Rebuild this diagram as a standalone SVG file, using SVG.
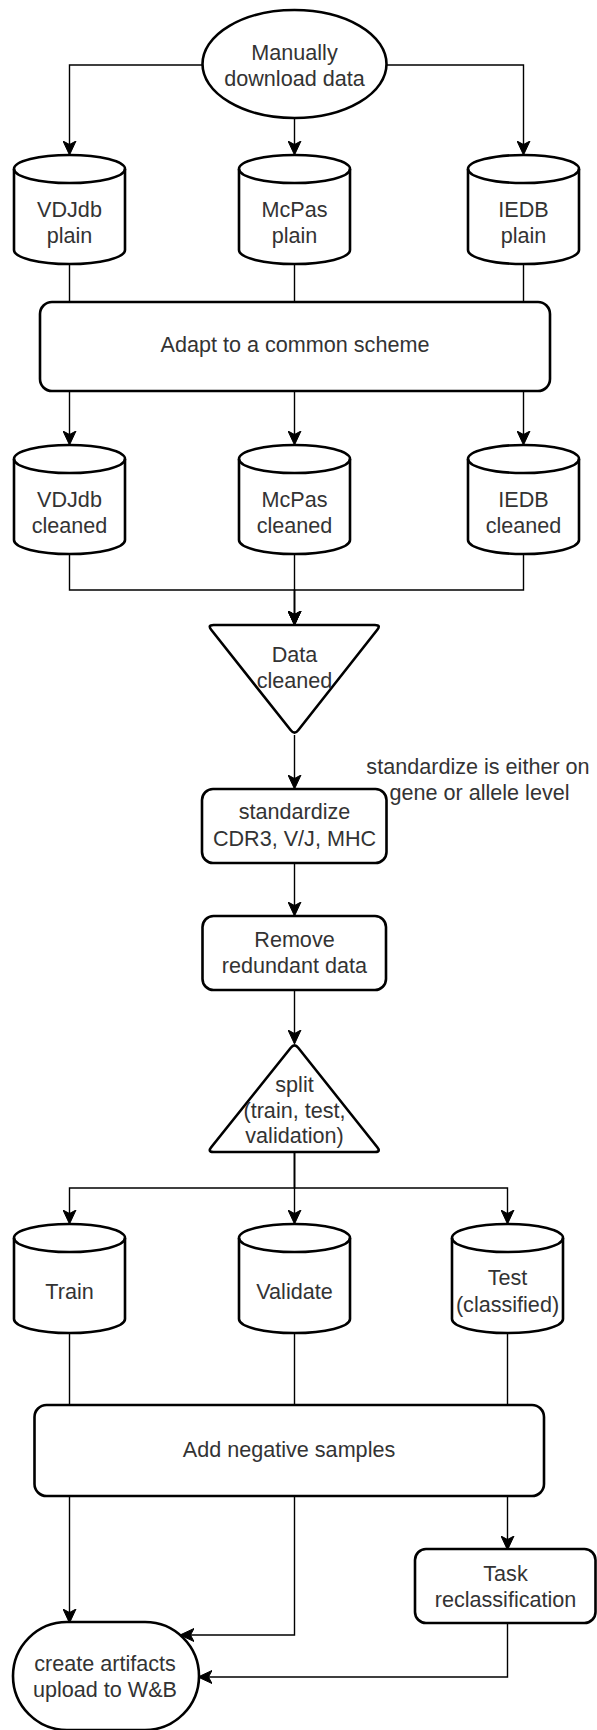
<svg xmlns="http://www.w3.org/2000/svg" xmlns:xlink="http://www.w3.org/1999/xlink" width="597" height="1730" viewBox="0 0 597 1730">
<style>
.n{fill:#fff;stroke:#000;stroke-width:2.6;stroke-linejoin:round}
.c{fill:none;stroke:#000;stroke-width:1.4}
.a{marker-end:url(#arr)}
text{font-family:"Liberation Sans",Arial,Helvetica,sans-serif;font-size:21.6px;fill:#333;text-anchor:middle}
</style>
<defs>
<marker id="arr" viewBox="0 0 14 14" refX="13" refY="7" markerWidth="14" markerHeight="14" orient="auto" markerUnits="userSpaceOnUse">
<path d="M0,0.5 L14,7 L0,13.5 L3.5,7 Z" fill="#000" stroke="#000" stroke-width="1"/>
</marker>
<g id="cyl">
<path class="n" d="M0,14 L0,95 A55.5,14 0 0 0 111,95 L111,14 A55.5,14 0 0 0 0,14 Z"/>
<path class="n" style="fill:none" d="M0,14 A55.5,14 0 0 0 111,14"/>
</g>
</defs>
<rect width="597" height="1730" fill="#fff"/>

<g id="connectors">
<path class="c a" d="M202,65 H69.5 V154"/>
<path class="c a" d="M294.5,118 V154"/>
<path class="c a" d="M386.5,65 H523.5 V154"/>
<path class="c" d="M69.5,264 V302 M294.5,264 V302 M523.5,264 V302"/>
<path class="c a" d="M69.5,391 V444"/>
<path class="c a" d="M294.5,391 V444"/>
<path class="c a" d="M523.5,391 V444"/>
<path class="c a" d="M69.5,555 V590 H294.5 V624"/>
<path class="c a" d="M294.5,555 V624"/>
<path class="c a" d="M523.5,555 V590 H294.5 V624"/>
<path class="c a" d="M294.5,735 V788"/>
<path class="c a" d="M294.5,863 V915"/>
<path class="c a" d="M294.5,990 V1043"/>
<path class="c a" d="M294.5,1152 V1188 H69.5 V1223"/>
<path class="c a" d="M294.5,1152 V1223"/>
<path class="c a" d="M294.5,1152 V1188 H507.5 V1223"/>
<path class="c" d="M69.5,1333 V1405 M294.5,1333 V1405 M507.5,1333 V1405"/>
<path class="c a" d="M69.5,1496 V1622"/>
<path class="c a" d="M294.5,1496 V1635 H181"/>
<path class="c a" d="M507.5,1496 V1549"/>
<path class="c a" d="M507.5,1623 V1677 H199"/>
</g>

<g id="manual">
<ellipse class="n" cx="294.5" cy="64" rx="92" ry="54"/>
<text x="294.5" y="60">Manually</text>
<text x="294.5" y="86">download data</text>
</g>

<g id="vdjdb-plain"><use xlink:href="#cyl" x="14" y="155"/><text x="69.5" y="217">VDJdb</text><text x="69.5" y="243">plain</text></g>
<g id="mcpas-plain"><use xlink:href="#cyl" x="239" y="155"/><text x="294.5" y="217">McPas</text><text x="294.5" y="243">plain</text></g>
<g id="iedb-plain"><use xlink:href="#cyl" x="468" y="155"/><text x="523.5" y="217">IEDB</text><text x="523.5" y="243">plain</text></g>

<g id="adapt">
<rect class="n" x="40" y="302" width="510" height="89" rx="12"/>
<text x="295" y="352">Adapt to a common scheme</text>
</g>

<g id="vdjdb-cleaned"><use xlink:href="#cyl" x="14" y="445"/><text x="69.5" y="507">VDJdb</text><text x="69.5" y="533">cleaned</text></g>
<g id="mcpas-cleaned"><use xlink:href="#cyl" x="239" y="445"/><text x="294.5" y="507">McPas</text><text x="294.5" y="533">cleaned</text></g>
<g id="iedb-cleaned"><use xlink:href="#cyl" x="468" y="445"/><text x="523.5" y="507">IEDB</text><text x="523.5" y="533">cleaned</text></g>

<g id="data-cleaned">
<path class="n" d="M213.5,625 L375,625 Q381,625 377.3,629.7 L298.2,730.3 Q294.5,735 290.8,730.3 L211.2,629.7 Q207.5,625 213.5,625 Z"/>
<text x="294.5" y="662">Data</text>
<text x="294.5" y="688">cleaned</text>
</g>

<g id="standardize">
<rect class="n" x="202" y="789" width="184.5" height="74" rx="11"/>
<text x="294.5" y="819">standardize</text>
<text x="294.5" y="846">CDR3, V/J, MHC</text>
</g>

<g id="note">
<text x="478" y="774">standardize is either on</text>
<text x="479.5" y="800">gene or allele level</text>
</g>

<g id="remove">
<rect class="n" x="202.5" y="916" width="183.5" height="74" rx="11"/>
<text x="294.5" y="946.5">Remove</text>
<text x="294.5" y="973">redundant data</text>
</g>

<g id="split">
<path class="n" d="M298.2,1047.7 L377.3,1147.3 Q381,1152 375,1152 L213.5,1152 Q207.5,1152 211.2,1147.3 L290.8,1047.7 Q294.5,1043 298.2,1047.7 Z"/>
<text x="294.5" y="1092">split</text>
<text x="294.5" y="1118">(train, test,</text>
<text x="294.5" y="1143">validation)</text>
</g>

<g id="train"><use xlink:href="#cyl" x="14" y="1224"/><text x="69.5" y="1299">Train</text></g>
<g id="validate"><use xlink:href="#cyl" x="239" y="1224"/><text x="294.5" y="1299">Validate</text></g>
<g id="test"><use xlink:href="#cyl" x="452" y="1224"/><text x="507.5" y="1285">Test</text><text x="507.5" y="1311.5">(classified)</text></g>

<g id="negatives">
<rect class="n" x="34.5" y="1405" width="509.5" height="91" rx="12"/>
<text x="289" y="1457">Add negative samples</text>
</g>

<g id="task">
<rect class="n" x="415" y="1549" width="180.5" height="74" rx="11"/>
<text x="505.5" y="1580.5">Task</text>
<text x="505.5" y="1607">reclassification</text>
</g>

<g id="artifacts">
<rect class="n" x="13" y="1622" width="186" height="108" rx="54" ry="54"/>
<text x="105" y="1670.5">create artifacts</text>
<text x="105" y="1697">upload to W&amp;B</text>
</g>
</svg>
